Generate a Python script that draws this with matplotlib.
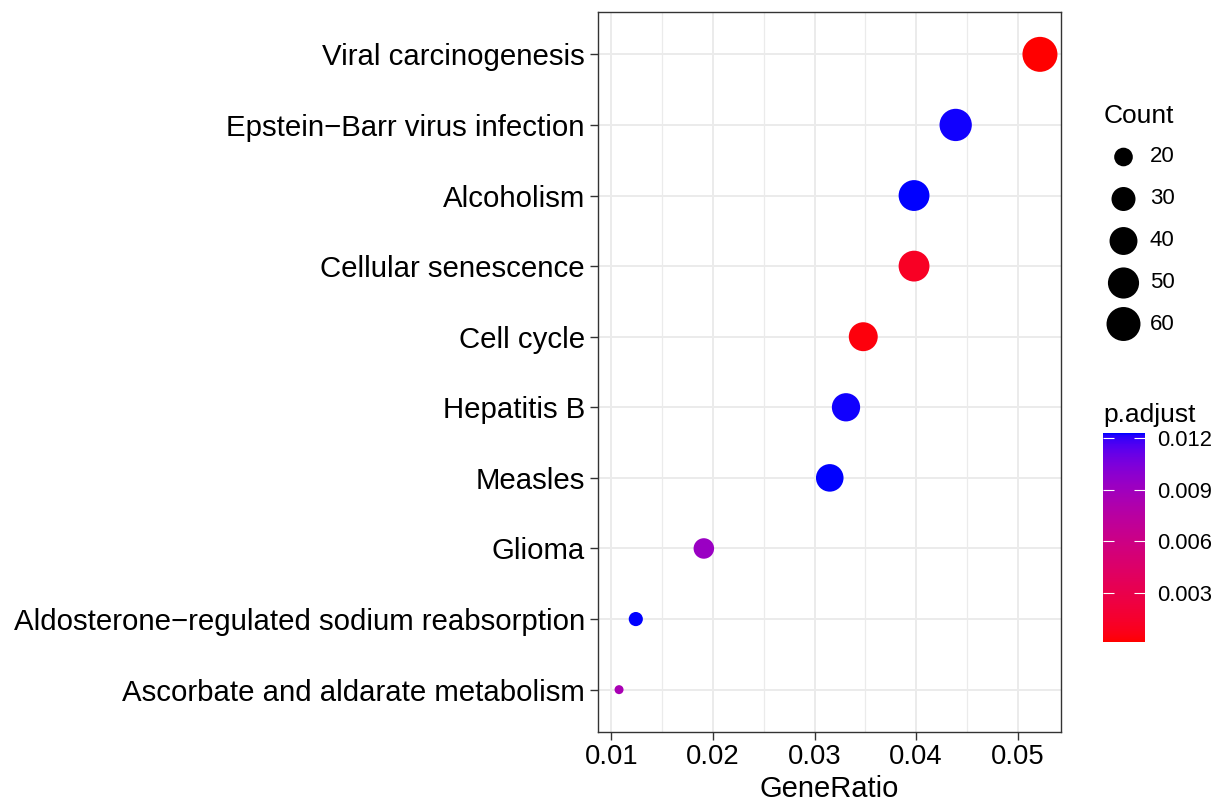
import numpy as np
import matplotlib
matplotlib.use("Agg")
import matplotlib.pyplot as plt
from matplotlib.colors import ListedColormap, Normalize
from matplotlib.ticker import MultipleLocator, FormatStrFormatter
import matplotlib.cm as cm

plt.rcParams['font.family'] = ['Liberation Sans', 'DejaVu Sans']

# ---------------- data ----------------
pathways = [
    "Viral carcinogenesis",
    "Epstein\u2212Barr virus infection",
    "Alcoholism",
    "Cellular senescence",
    "Cell cycle",
    "Hepatitis B",
    "Measles",
    "Glioma",
    "Aldosterone\u2212regulated sodium reabsorption",
    "Ascorbate and aldarate metabolism",
]
gene_ratio = [0.0522, 0.0439, 0.0398, 0.0398, 0.0348, 0.0331, 0.0315, 0.0191, 0.0124, 0.01075]
counts = [64, 54, 49, 49, 43, 41, 39, 23, 15, 13]
p_adjust = [0.00015, 0.01225, 0.0123, 0.0011, 0.0004, 0.01225, 0.0123, 0.0093, 0.0123, 0.0085]

size_breaks = [20, 30, 40, 50, 60]
color_breaks = [0.003, 0.006, 0.009, 0.012]

# ---------------- helpers ----------------
W, H, DPI = 1218, 806, 100

def _srgb_to_lin(c):
    c = np.asarray(c, float)
    return np.where(c <= 0.04045, c / 12.92, ((c + 0.055) / 1.055) ** 2.4)

def _lin_to_srgb(c):
    c = np.clip(c, 0, 1)
    return np.where(c <= 0.0031308, 12.92 * c, 1.055 * np.power(c, 1 / 2.4) - 0.055)

M = np.array([[0.4124564, 0.3575761, 0.1804375],
              [0.2126729, 0.7151522, 0.0721750],
              [0.0193339, 0.1191920, 0.9503041]])
WHITE = np.array([0.95047, 1.0, 1.08883])

def rgb2lab(rgb):
    xyz = M @ _srgb_to_lin(rgb) / WHITE
    f = np.where(xyz > 216 / 24389, np.cbrt(xyz), (24389 / 27 * xyz + 16) / 116)
    return np.array([116 * f[1] - 16, 500 * (f[0] - f[1]), 200 * (f[1] - f[2])])

def lab2rgb(lab):
    L, a, b = lab
    fy = (L + 16) / 116
    fx = fy + a / 500
    fz = fy - b / 200
    f = np.array([fx, fy, fz])
    xyz = np.where(f ** 3 > 216 / 24389, f ** 3, (116 * f - 16) / (24389 / 27)) * WHITE
    return _lin_to_srgb(np.linalg.inv(M) @ xyz)

lab_lo = rgb2lab([1, 0, 0])
lab_hi = rgb2lab([0, 0, 1])
cols = [lab2rgb(lab_lo + (lab_hi - lab_lo) * t) for t in np.linspace(0, 1, 256)]
cmap = ListedColormap(np.clip(np.array(cols), 0, 1))
norm = Normalize(vmin=min(p_adjust), vmax=max(p_adjust))

cmin, cmax = min(counts), max(counts)
def size_of(c):
    c = np.asarray(c, float)
    d_px = 9 + 26 * np.sqrt(np.clip((c - cmin) / (cmax - cmin), 0, None))
    return (d_px * 72 / DPI) ** 2

# ---------------- figure ----------------
fig = plt.figure(figsize=(W / DPI, H / DPI), dpi=DPI)

overlay = fig.add_axes([0, 0, 1, 1])
overlay.set_xlim(0, W)
overlay.set_ylim(H, 0)
overlay.set_axis_off()

x0, x1, y0, y1 = 598, 1061, 12, 732
ax = fig.add_axes([x0 / W, 1 - y1 / H, (x1 - x0) / W, (y1 - y0) / H])

ypos = np.arange(len(pathways))[::-1]
ax.scatter(gene_ratio, ypos, s=size_of(counts), c=p_adjust, cmap=cmap, norm=norm,
           linewidths=0, zorder=3)

rng = max(gene_ratio) - min(gene_ratio)
ax.set_xlim(min(gene_ratio) - 0.05 * rng, max(gene_ratio) + 0.05 * rng)
ax.set_ylim(-0.6, len(pathways) - 1 + 0.6)
ax.set_yticks(ypos)
ax.set_yticklabels(pathways)
ax.xaxis.set_major_locator(MultipleLocator(0.01))
ax.xaxis.set_minor_locator(MultipleLocator(0.005))
ax.xaxis.set_major_formatter(FormatStrFormatter('%.2f'))
ax.yaxis.set_minor_locator(plt.NullLocator())

ax.grid(True, which='major', color='#EBEBEB', linewidth=1.4, zorder=0)
ax.grid(True, which='minor', axis='x', color='#EBEBEB', linewidth=0.9, zorder=0)
ax.set_axisbelow(True)
for sp in ax.spines.values():
    sp.set_color('#333333')
    sp.set_linewidth(1.0)
ax.tick_params(axis='both', which='major', color='#333333', width=1.0, length=5.5,
               labelcolor='black')
ax.tick_params(axis='y', labelsize=21.2, pad=4)
ax.tick_params(axis='x', labelsize=19.7, pad=3)
ax.tick_params(axis='x', which='minor', length=0)
ax.set_xlabel("GeneRatio", fontsize=21, labelpad=4)

# ---------------- size legend ----------------
overlay.text(1104, 123, "Count", fontsize=19, ha='left', va='baseline')
leg_y = [157, 199, 241, 283, 324]
overlay.scatter([1123.5] * len(size_breaks), leg_y, s=size_of(size_breaks), c='black',
                linewidths=0)
for yy, b in zip(leg_y, size_breaks):
    overlay.text(1150, yy, str(b), fontsize=16, ha='left', va='center')

# ---------------- colour bar ----------------
overlay.text(1103, 422, "p.adjust", fontsize=19, ha='left', va='baseline')
cb_x0, cb_x1, cb_y0, cb_y1 = 1103, 1145, 433, 642
cax = fig.add_axes([cb_x0 / W, 1 - cb_y1 / H, (cb_x1 - cb_x0) / W, (cb_y1 - cb_y0) / H])
sm = cm.ScalarMappable(norm=norm, cmap=cmap)
cb = fig.colorbar(sm, cax=cax, ticks=color_breaks)
cb.outline.set_visible(False)
cb.ax.set_yticklabels(["%.3f" % v for v in color_breaks])
cb.ax.tick_params(axis='y', which='major', direction='in', length=8, width=0.8,
                  color='white', labelsize=15.8, pad=8.5, left=True, right=True)
cb.ax.yaxis.set_minor_locator(plt.NullLocator())

fig.savefig("out.png", dpi=DPI)
